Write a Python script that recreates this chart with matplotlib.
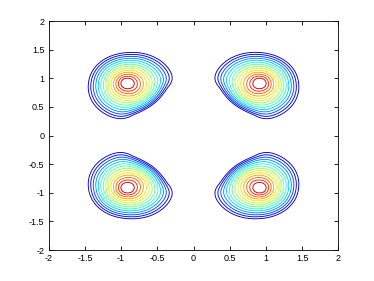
import numpy as np
import matplotlib.pyplot as plt
from matplotlib import ticker

plt.rcParams['font.family'] = ['Liberation Sans', 'DejaVu Sans']
plt.rcParams['axes.unicode_minus'] = False

# four peaks, one per quadrant
peak_x = [-0.92, 0.92, -0.92, 0.92]
peak_y = [0.92, 0.92, -0.92, -0.92]
tilt = 0.15             # rings lean towards the origin
cut_ratio = 0.81        # flat side towards the origin (outer rings)
soft = 8                # rounding of the flat side's corners
ring_norm = 2.1
n_levels = 14
outer_r = 0.586         # size of the outermost ring
inner_r = 0.09          # size of the innermost ring
tick_vals = [-2, -1.5, -1, -0.5, 0, 0.5, 1, 1.5, 2]

x = np.linspace(-2, 2, 801)
y = np.linspace(-2, 2, 801)
X, Y = np.meshgrid(x, y)

Z = np.full_like(X, -10.0)
for px, py in zip(peak_x, peak_y):
    # local coords, positive = away from the origin
    p = (X - px) * np.sign(px)
    q = (Y - py) * np.sign(py)
    s = (p + q) / np.sqrt(2)
    a = (np.abs(p) ** ring_norm + np.abs(q) ** ring_norm) ** (1 / ring_norm) + tilt * s
    b = np.maximum(-s, 0) / cut_ratio
    d_cut = (a ** soft + b ** soft) ** (1 / soft)
    # inner rings stay round, only the outer ones get the flat side
    w = np.clip((a - 0.15) / 0.35, 0, 1) ** 1.5
    d = a + w * (d_cut - a)
    Z = np.maximum(Z, 1 - d)

levels = 1 - np.linspace(outer_r, inner_r, n_levels)
colors = plt.cm.jet(np.linspace(0.06, 0.94, n_levels))

fig = plt.figure(figsize=(3.74, 2.81), dpi=100)
ax = fig.add_axes([0.13, 0.11, 0.775, 0.815])
ax.contour(X, Y, Z, levels=levels, colors=colors, linewidths=0.65)

ax.set_xlim(-2, 2)
ax.set_ylim(-2, 2)
ax.set_xticks(tick_vals)
ax.set_yticks(tick_vals)
fmt = ticker.FuncFormatter(lambda v, p: f'{v:g}')
ax.xaxis.set_major_formatter(fmt)
ax.yaxis.set_major_formatter(fmt)
ax.tick_params(direction='in', length=3, width=0.6, labelsize=6.5,
               top=True, right=True, pad=3)
for sp in ax.spines.values():
    sp.set_linewidth(0.6)

fig.savefig('out.png', dpi=100)
